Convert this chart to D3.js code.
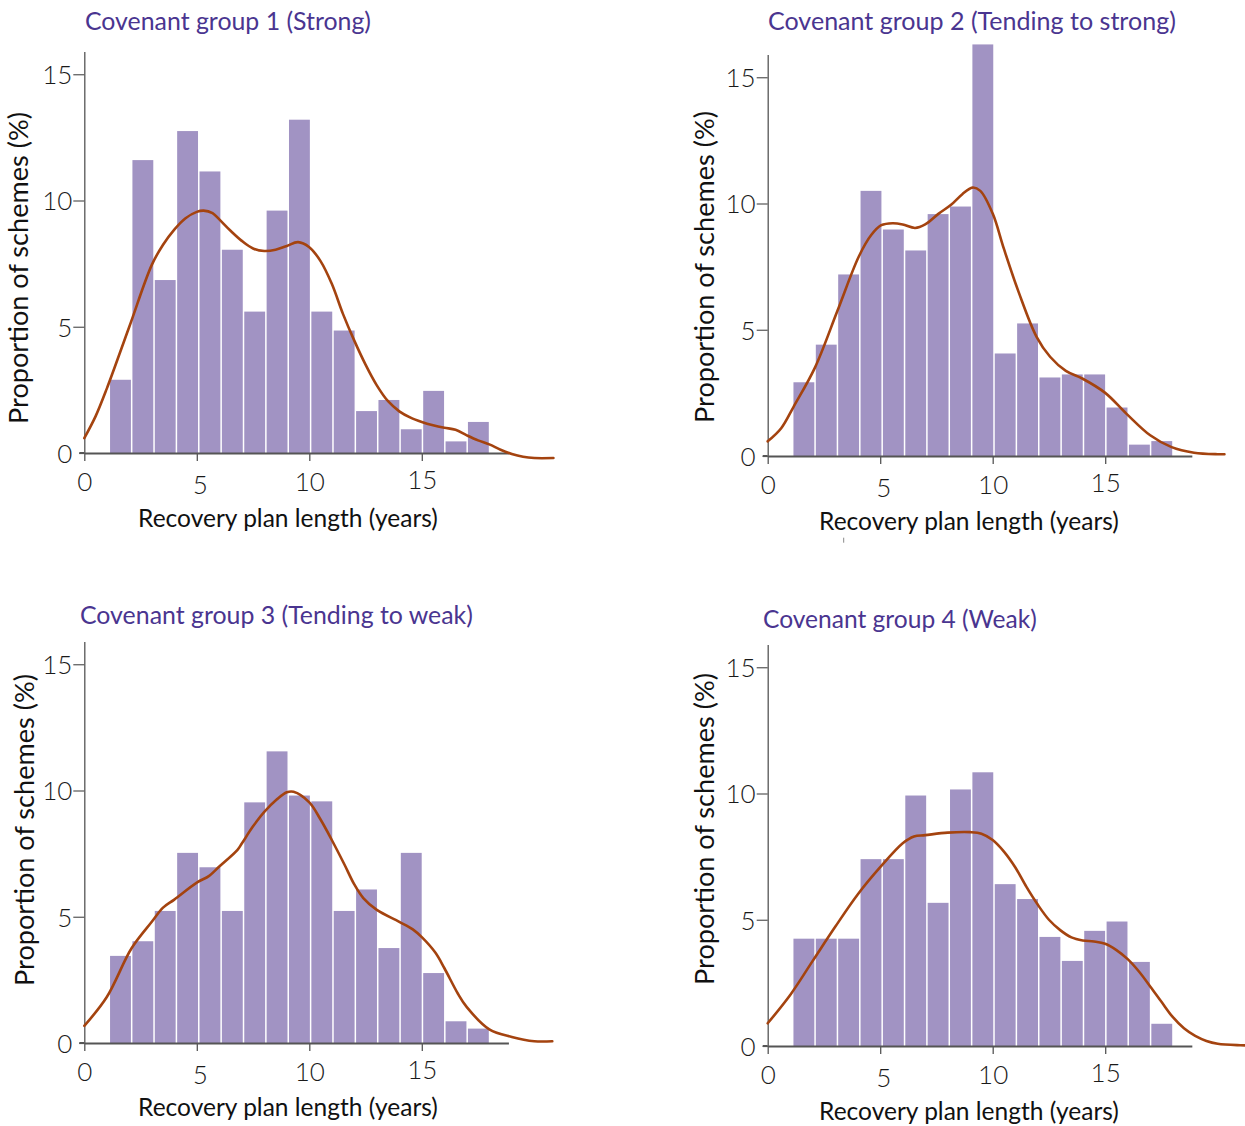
<!DOCTYPE html>
<html>
<head>
<meta charset="utf-8">
<script src="https://cdn.jsdelivr.net/npm/d3@7"></script>
<style>
  html, body { margin: 0; padding: 0; background: #fff; }
  svg { display: block; }
</style>
</head>
<body>
<svg id="chart" width="1245" height="1126"></svg>
<script>
// ---- Data: share of schemes (%) by recovery plan length, per covenant group ----
const titles = [
  "Covenant group 1 (Strong)",
  "Covenant group 2 (Tending to strong)",
  "Covenant group 3 (Tending to weak)",
  "Covenant group 4 (Weak)"
];
const xLabel = "Recovery plan length (years)";
const yLabel = "Proportion of schemes (%)";
const xTicks = [0, 5, 10, 15];
const yTicks = [0, 5, 10, 15];

// histogram bins span 1.1 to 18 years, 17 equal bins
const binStart = 1.1;
const binEnd = 18;

const bars1 = [2.9, 11.6, 6.85, 12.75, 11.15, 8.05, 5.6, 9.6, 13.2, 5.6, 4.85, 1.66, 2.1, 0.94, 2.46, 0.46, 1.23];
const bars2 = [2.92, 4.41, 7.19, 10.5, 8.97, 8.14, 9.58, 9.88, 16.3, 4.06, 5.25, 3.11, 3.23, 3.23, 1.92, 0.45, 0.59];
const bars3 = [3.45, 4.03, 5.23, 7.53, 6.96, 5.23, 9.53, 11.55, 9.8, 9.57, 5.23, 6.08, 3.76, 7.53, 2.77, 0.86, 0.57];
const bars4 = [4.25, 4.25, 4.25, 7.4, 7.4, 9.92, 5.67, 10.16, 10.84, 6.41, 5.82, 4.32, 3.37, 4.56, 4.93, 3.33, 0.88];

// smoothed density curves: [years, %]
const curve1 = [[0,0.59],[0.5,1.45],[1,2.55],[2,5.0],[3,7.45],[3.5,8.25],[4,8.85],[4.5,9.3],[5,9.55],[5.3,9.6],[5.7,9.5],[6,9.25],[6.5,8.8],[7,8.4],[7.5,8.1],[8,8.0],[8.5,8.05],[9,8.2],[9.5,8.35],[10,8.15],[10.5,7.6],[11,6.7],[11.5,5.5],[12,4.45],[12.5,3.5],[13,2.68],[13.5,2.05],[14,1.65],[14.5,1.4],[15,1.23],[15.5,1.1],[16,1.0],[16.5,0.92],[17,0.7],[17.5,0.5],[18,0.34],[18.5,0.13],[19,-0.04],[19.5,-0.15],[20,-0.2],[20.85,-0.2]];
const curve2 = [[0,0.58],[0.6,1.1],[1.15,1.95],[2.1,3.5],[3.1,5.75],[4.05,7.9],[4.6,8.75],[5.05,9.14],[5.55,9.22],[6,9.17],[6.55,9.03],[7,9.17],[7.6,9.6],[8.15,9.95],[8.65,10.37],[9.1,10.63],[9.45,10.5],[10,9.6],[10.5,8.2],[11.15,6.5],[11.95,4.72],[12.55,3.93],[13.25,3.37],[14,3.06],[15,2.5],[15.95,1.67],[17,0.82],[17.95,0.35],[18.95,0.13],[20,0.07],[20.3,0.07]];
const curve3 = [[0,0.68],[1,1.82],[2.1,3.75],[3,4.8],[3.5,5.36],[4,5.68],[5,6.35],[5.55,6.62],[6,6.99],[6.8,7.64],[7,7.9],[7.5,8.58],[8,9.15],[8.55,9.64],[9,9.93],[9.3,9.95],[10,9.53],[10.5,8.85],[11,8.04],[11.55,7.09],[12,6.28],[12.4,5.74],[13,5.27],[14,4.8],[14.6,4.5],[15,4.19],[15.6,3.58],[16,2.97],[16.6,1.96],[17,1.42],[18,0.54],[19,0.24],[20,0.07],[20.8,0.07]];
const curve4 = [[0,0.9],[1,2.02],[2,3.37],[3,4.72],[4,6.0],[5,7.08],[6,8.03],[6.5,8.3],[7,8.35],[8,8.45],[9,8.47],[9.5,8.41],[10,8.16],[10.5,7.7],[11,7.08],[11.5,6.3],[12,5.6],[12.5,5.0],[13,4.59],[13.5,4.3],[14,4.18],[14.5,4.14],[15,4.05],[15.5,3.8],[16,3.44],[16.5,2.95],[17,2.36],[17.5,1.75],[18,1.15],[18.5,0.7],[19,0.4],[19.5,0.2],[20,0.09],[21,0.03],[21.6,0.02]];

const barSets = [bars1, bars2, bars3, bars4];
const curveSets = [curve1, curve2, curve3, curve4];

// ---- Layout ----
const panels = [
  { ox: 84.3,  base: 453,  titleX: 85,  titleY: 30,   titleW: 286, xlabCx: 288, xlabY: 527,  ylabX: 28,  ylabCy: 268 },
  { ox: 767.7, base: 456,  titleX: 768, titleY: 29.5, titleW: 408, xlabCx: 969, xlabY: 530,  ylabX: 714, ylabCy: 267 },
  { ox: 84.3,  base: 1043, titleX: 80,  titleY: 624,  titleW: 393, xlabCx: 288, xlabY: 1116, ylabX: 34,  ylabCy: 830 },
  { ox: 767.7, base: 1046, titleX: 763, titleY: 628,  titleW: 274, xlabCx: 969, xlabY: 1120, ylabX: 714, ylabCy: 829 }
];
const xUnit = 22.5, yUnit = 25.25;
const xMax = 18.85, yMax = 15.9;

const BAR = "#a193c3";
const CURVE = "#a4430f";
const TITLE = "#4a3590";
const AXIS = "#555";
const FONT = "Lato, 'Noto Sans', sans-serif";

const svg = d3.select("#chart");

function fitWidth(sel, w) {
  const len = sel.node().getComputedTextLength();
  const fs = parseFloat(sel.attr("font-size"));
  sel.attr("font-size", fs * w / len);
}

panels.forEach((p, i) => {
  const x = d3.scaleLinear().domain([0, xMax]).range([p.ox, p.ox + xMax * xUnit]);
  const y = d3.scaleLinear().domain([0, yMax]).range([p.base, p.base - yMax * yUnit]);
  const g = svg.append("g");

  // bars
  const bw = (binEnd - binStart) / barSets[i].length;
  g.append("g").selectAll("rect")
    .data(barSets[i])
    .join("rect")
    .attr("x", (d, k) => x(binStart + k * bw) + 1)
    .attr("width", (d, k) => x(binStart + (k + 1) * bw) - x(binStart + k * bw) - 1.5)
    .attr("y", d => y(d))
    .attr("height", d => y(0) - y(d))
    .attr("fill", BAR);

  // y axis
  const ya = g.append("g")
    .attr("transform", `translate(${p.ox},0)`)
    .call(d3.axisLeft(y).tickValues(yTicks).tickSize(11).tickSizeOuter(0).tickPadding(1));
  ya.select(".domain").attr("stroke", AXIS).attr("stroke-width", 1.3);
  ya.selectAll(".tick line").attr("stroke", AXIS).attr("stroke-width", 1.2)
    .attr("x2", d => d === 0 ? -5 : -11);
  ya.selectAll(".tick text")
    .attr("font-family", FONT).attr("font-weight", 300)
    .attr("font-size", 26).attr("fill", "#1a1a1a").attr("dy", "0.36em");

  // x axis
  const xa = g.append("g")
    .attr("transform", `translate(0,${p.base})`)
    .call(d3.axisBottom(x).tickValues(xTicks).tickSize(8).tickSizeOuter(0).tickPadding(0));
  xa.select(".domain").attr("stroke", AXIS).attr("stroke-width", 2);
  xa.selectAll(".tick line").attr("stroke", AXIS).attr("stroke-width", 1.3);
  const nudge = { 0: [0, 0], 5: [3, 3], 10: [0, 0], 15: [0, -2] };
  xa.selectAll(".tick text")
    .attr("font-family", FONT).attr("font-weight", 300)
    .attr("font-size", 26).attr("fill", "#1a1a1a")
    .attr("y", 29).attr("dy", "0.36em")
    .attr("dx", d => nudge[d][0])
    .attr("transform", d => `translate(0,${nudge[d][1]})`);
  // short stub of the baseline left of the y axis
  g.append("line")
    .attr("x1", p.ox - 5).attr("x2", p.ox)
    .attr("y1", p.base).attr("y2", p.base)
    .attr("stroke", AXIS).attr("stroke-width", 2);

  // density curve
  const line = d3.line()
    .x(d => x(d[0]))
    .y(d => y(d[1]))
    .curve(d3.curveCatmullRom.alpha(0.5));
  g.append("path")
    .datum(curveSets[i])
    .attr("d", line)
    .attr("fill", "none")
    .attr("stroke", CURVE)
    .attr("stroke-width", 2.6)
    .attr("stroke-linecap", "round");

  // title
  const t = g.append("text")
    .attr("x", p.titleX).attr("y", p.titleY)
    .attr("font-family", FONT).attr("font-size", 22)
    .attr("fill", TITLE)
    .text(titles[i]);
  fitWidth(t, p.titleW);

  // x axis label
  const xl = g.append("text")
    .attr("x", p.xlabCx).attr("y", p.xlabY)
    .attr("text-anchor", "middle")
    .attr("font-family", FONT).attr("font-size", 22)
    .attr("fill", "#111")
    .text(xLabel);
  fitWidth(xl, 300);

  // y axis label
  const yl = g.append("text")
    .attr("transform", `translate(${p.ylabX},${p.ylabCy}) rotate(-90)`)
    .attr("text-anchor", "middle")
    .attr("font-family", FONT).attr("font-size", 25)
    .attr("fill", "#111")
    .text(yLabel);
  fitWidth(yl, 312);
});

// small stray tick under the second panel's axis title
svg.append("line")
  .attr("x1", 843.7).attr("x2", 843.7)
  .attr("y1", 537.7).attr("y2", 542.7)
  .attr("stroke", "#888").attr("stroke-width", 1);
</script>
</body>
</html>
